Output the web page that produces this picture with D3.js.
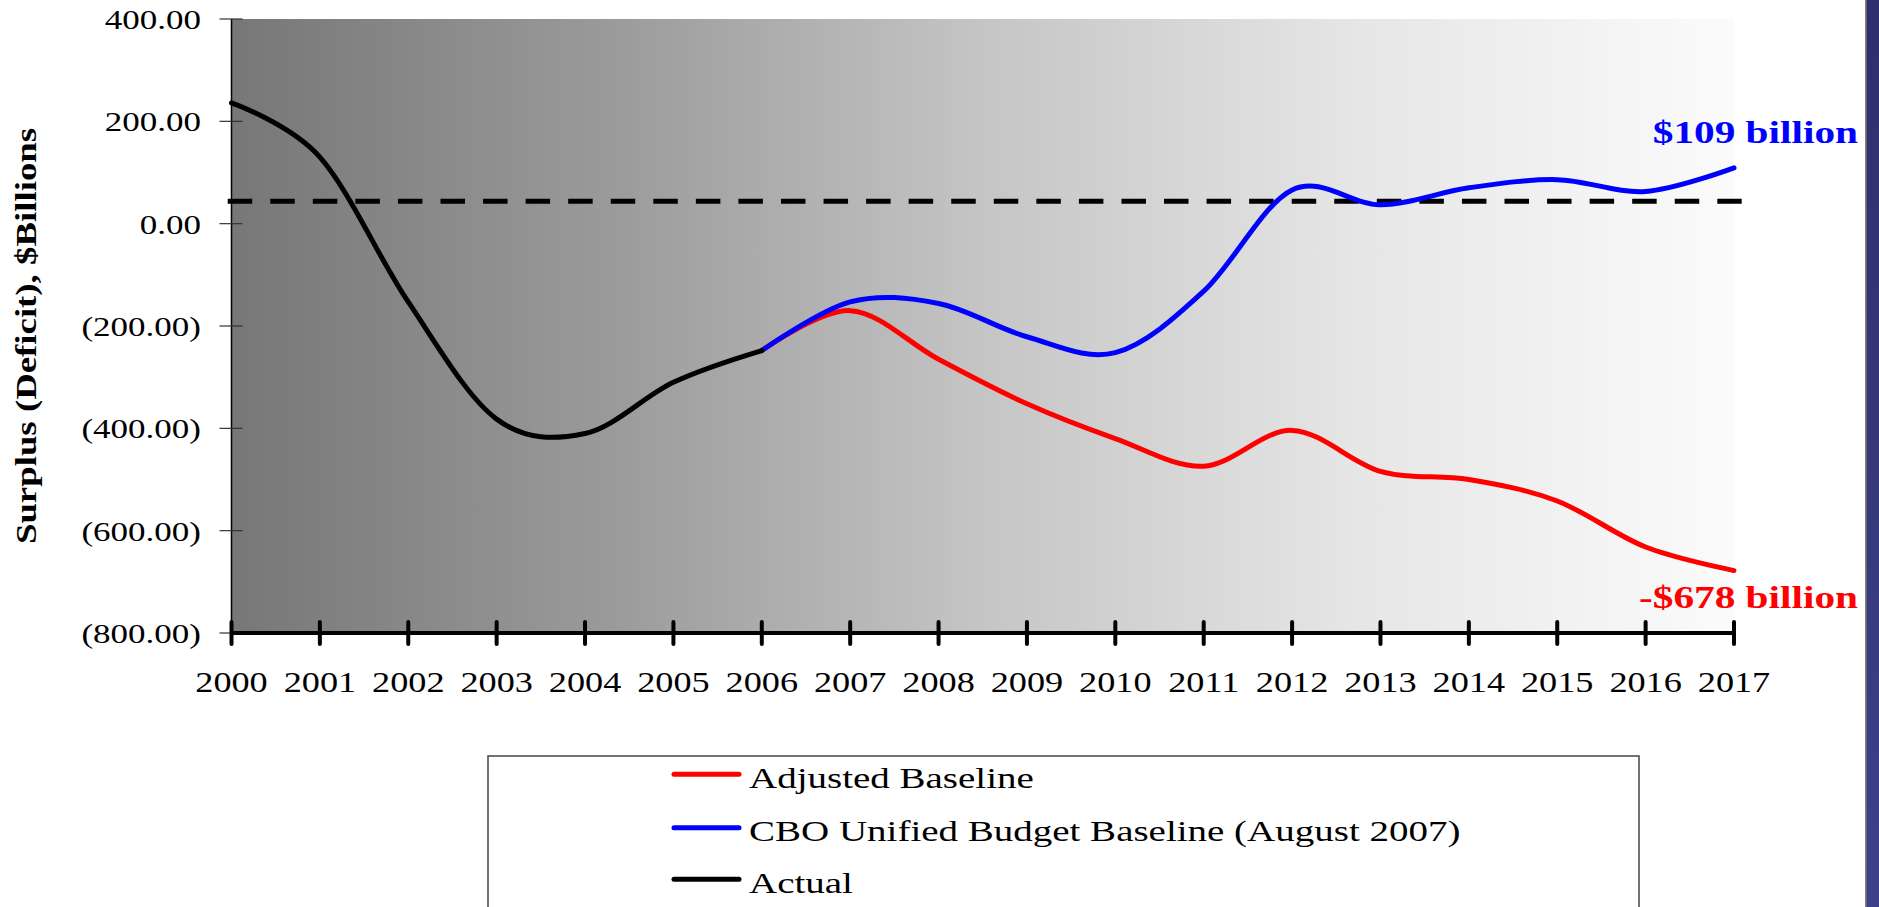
<!DOCTYPE html>
<html>
<head>
<meta charset="utf-8">
<script src="https://cdn.jsdelivr.net/npm/d3@7"></script>
<style>
  html, body { margin: 0; padding: 0; background: #ffffff; }
  svg { display: block; }
  text { font-family: "Liberation Serif", "DejaVu Serif", serif; }
</style>
</head>
<body>
<svg id="chart" width="1879" height="907"></svg>
<script>
// ---------------- DATA ----------------
const years = [2000, 2001, 2002, 2003, 2004, 2005, 2006, 2007, 2008,
               2009, 2010, 2011, 2012, 2013, 2014, 2015, 2016, 2017];

const actualYears = [2000, 2001, 2002, 2003, 2004, 2005, 2006];
const actualValues = [236, 130, -153, -382, -410, -310, -248];

const projYears = [2006, 2007, 2008, 2009, 2010, 2011, 2012, 2013, 2014, 2015, 2016, 2017];
const adjustedValues = [-248, -170, -265, -352, -420, -474, -404, -484, -500, -542, -632, -678];
const cboValues = [-248, -153, -156, -221, -252, -132, 66, 37, 70, 86, 63, 109];

const refLineValue = 44;

const yTicks = [400, 200, 0, -200, -400, -600, -800];
const yTickLabels = ["400.00", "200.00", "0.00", "(200.00)", "(400.00)", "(600.00)", "(800.00)"];
const xTickLabels = years.map(String);

const seriesNames = ["Adjusted Baseline", "CBO Unified Budget Baseline (August 2007)", "Actual"];
const seriesColors = ["#ff0000", "#0000ff", "#000000"];

const yAxisTitle = "Surplus (Deficit), $Billions";
const endLabelCBO = "$109 billion";
const endLabelAdjusted = "-$678 billion";

// ---------------- LAYOUT ----------------
const svg = d3.select("#chart");
const X0 = 231.5, X1 = 1734, Y0 = 19, Y1 = 633;

const x = d3.scaleLinear().domain([2000, 2017]).range([X0, X1]);
const y = d3.scaleLinear().domain([-800, 400]).range([Y1, Y0]);

const defs = svg.append("defs");
const bg = defs.append("linearGradient").attr("id", "bgGrad")
  .attr("x1", "0%").attr("x2", "100%").attr("y1", "0%").attr("y2", "0%");
[["0%", "#777777"], ["25%", "#9a9a9a"], ["50%", "#c5c5c5"], ["75%", "#e6e6e6"], ["100%", "#fbfbfb"]]
  .forEach(s => bg.append("stop").attr("offset", s[0]).attr("stop-color", s[1]));

const sg = defs.append("linearGradient").attr("id", "stripGrad")
  .attr("x1", "0%").attr("x2", "0%").attr("y1", "0%").attr("y2", "100%");
sg.append("stop").attr("offset", "0%").attr("stop-color", "#2d2e6c");
sg.append("stop").attr("offset", "100%").attr("stop-color", "#3e4189");

// right decorative strip
svg.append("rect").attr("x", 1866.5).attr("y", 0).attr("width", 13).attr("height", 907)
  .attr("fill", "url(#stripGrad)");
svg.append("line").attr("x1", 1866).attr("x2", 1866).attr("y1", 0).attr("y2", 907)
  .attr("stroke", "#555").attr("stroke-width", 1.5);

// plot background
svg.append("rect").attr("x", X0).attr("y", Y0).attr("width", X1 - X0).attr("height", Y1 - Y0)
  .attr("fill", "url(#bgGrad)");

// y axis
svg.append("line").attr("x1", X0).attr("x2", X0).attr("y1", Y0).attr("y2", Y1)
  .attr("stroke", "#000").attr("stroke-width", 1.5);
const yt = svg.append("g");
yTicks.forEach((v, i) => {
  yt.append("line").attr("x1", X0 - 12).attr("x2", X0 + 11)
    .attr("y1", y(v)).attr("y2", y(v)).attr("stroke", "#333").attr("stroke-width", 1.2);
  yt.append("text")
    .attr("transform", `translate(201,${y(v) + 10}) scale(1.25,1)`)
    .attr("text-anchor", "end").attr("font-size", 28).attr("fill", "#000")
    .text(yTickLabels[i]);
});

// y axis title
svg.append("text")
  .attr("transform", "translate(36,336) rotate(-90) scale(1.27,1)")
  .attr("text-anchor", "middle").attr("font-size", 29).attr("font-weight", "bold")
  .attr("fill", "#000").text(yAxisTitle);

// x axis
svg.append("line").attr("x1", X0).attr("x2", X1).attr("y1", Y1).attr("y2", Y1)
  .attr("stroke", "#000").attr("stroke-width", 4);
const xt = svg.append("g");
years.forEach((yr, i) => {
  xt.append("line").attr("x1", x(yr)).attr("x2", x(yr)).attr("y1", Y1 - 11).attr("y2", Y1 + 11)
    .attr("stroke", "#000").attr("stroke-width", 4).attr("stroke-linecap", "round");
  xt.append("text")
    .attr("transform", `translate(${x(yr)},692) scale(1.25,1)`)
    .attr("text-anchor", "middle").attr("font-size", 29).attr("fill", "#000")
    .text(xTickLabels[i]);
});

// dashed reference line
svg.append("line").attr("x1", 227.7).attr("x2", 1741.7)
  .attr("y1", y(refLineValue)).attr("y2", y(refLineValue))
  .attr("stroke", "#000").attr("stroke-width", 5).attr("stroke-dasharray", "24.5 18.06");

// lines
const line = d3.line().x(d => x(d[0])).y(d => y(d[1])).curve(d3.curveCatmullRom.alpha(0));
const plotLine = (xs, vs, color) => svg.append("path")
  .datum(xs.map((yr, i) => [yr, vs[i]]))
  .attr("d", line).attr("fill", "none").attr("stroke", color)
  .attr("stroke-width", 5).attr("stroke-linejoin", "round").attr("stroke-linecap", "round");

plotLine(projYears, adjustedValues, seriesColors[0]);
plotLine(projYears, cboValues, seriesColors[1]);
plotLine(actualYears, actualValues, seriesColors[2]);

// end labels
svg.append("text")
  .attr("transform", "translate(1858,143) scale(1.29,1)")
  .attr("text-anchor", "end").attr("font-size", 32).attr("font-weight", "bold")
  .attr("fill", "#0000ff").text(endLabelCBO);
svg.append("text")
  .attr("transform", "translate(1858,608) scale(1.29,1)")
  .attr("text-anchor", "end").attr("font-size", 32).attr("font-weight", "bold")
  .attr("fill", "#ff0000").text(endLabelAdjusted);

// legend
svg.append("rect").attr("x", 488).attr("y", 756).attr("width", 1151).attr("height", 200)
  .attr("fill", "#fff").attr("stroke", "#444").attr("stroke-width", 1.5);
const legY = [774.3, 827.7, 879.3];
seriesNames.forEach((name, i) => {
  svg.append("line").attr("x1", 674).attr("x2", 739).attr("y1", legY[i]).attr("y2", legY[i])
    .attr("stroke", seriesColors[i]).attr("stroke-width", 5).attr("stroke-linecap", "round");
  svg.append("text")
    .attr("transform", `translate(749,${legY[i] + 13.4}) scale(1.3,1)`)
    .attr("font-size", 30).attr("fill", "#000").text(name);
});
</script>
</body>
</html>
